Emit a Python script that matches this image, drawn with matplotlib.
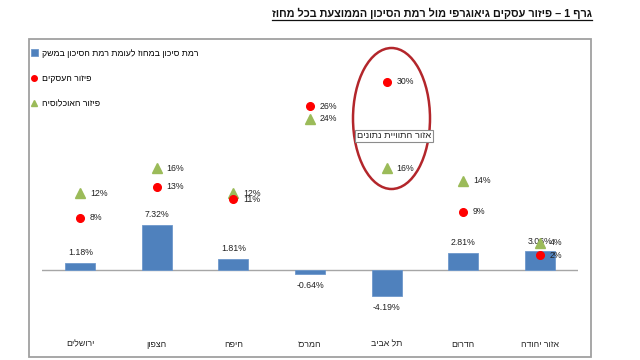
import matplotlib
matplotlib.use("Agg")
import matplotlib.pyplot as plt
from matplotlib.patches import Ellipse, Rectangle
from matplotlib.lines import Line2D

plt.rcParams['font.family'] = ['Liberation Sans', 'DejaVu Sans']

# data
districts = ["ירושלים", "הצפון", "חיפה", "המרכז", "תל אביב", "הדרום", "אזור יהודה"]
risk_vs_avg = [1.18, 7.32, 1.81, -0.64, -4.19, 2.81, 3.06]
business_share = [8, 13, 11, 26, 30, 9, 2]
population_share = [12, 16, 12, 24, 16, 14, 4]

title = "גרף 1 – פיזור עסקים גיאוגרפי מול רמת הסיכון הממוצעת בכל מחוז"
lbl_risk = "רמת סיכון במחוז לעומת רמת הסיכון במשק"
lbl_business = "פיזור העסקים"
lbl_population = "פיזור האוכלוסיה"
callout = "אזור התוויית נתונים"


def rtl(s):
    # no bidi in matplotlib: flip to visual order (no multi-digit numbers here)
    return s[::-1]


W, H = 640, 360
fig = plt.figure(figsize=(6.4, 3.6), dpi=100)
ax = fig.add_axes([42 / W, 1 - 330 / H, 536 / W, 285 / H])
ax2 = ax.twinx()

x = list(range(len(districts)))
blue = '#4F81BD'
red = '#FF0000'
green = '#9BBB59'
txt = '#222222'
fs = 6.3

bars = ax.bar(x, risk_vs_avg, width=0.39, color=blue, edgecolor='#6E98CC', linewidth=0.6,
              label=rtl(lbl_risk), zorder=2)
ax.axhline(0, color='#A6A6A6', lw=1, zorder=1)
ax.set_xlim(-0.5, 6.5)
ax.set_ylim(-9.68, 36.3)
ax2.set_ylim(-10.08, 35.9)

for xi, v in zip(x, risk_vs_avg):
    off = 7.2 if v >= 0 else -8
    ax.annotate(f"{v:.2f}%", (xi, v), xytext=(0, off), textcoords='offset points',
                ha='center', va='center', fontsize=fs, color=txt)

ax2.plot(x, population_share, linestyle='none', marker='^', markersize=7, color=green,
         label=rtl(lbl_population), zorder=3)
ax2.plot(x, business_share, linestyle='none', marker='o', markersize=5.5, color=red,
         label=rtl(lbl_business), zorder=4)

for xi, v in zip(x, business_share):
    ax2.annotate(f"{v}%", (xi, v), xytext=(7, 0), textcoords='offset points',
                 ha='left', va='center', fontsize=fs, color=txt)
for xi, v in zip(x, population_share):
    ax2.annotate(f"{v}%", (xi, v), xytext=(7, 0), textcoords='offset points',
                 ha='left', va='center', fontsize=fs, color=txt)

ax.set_xticks(x)
ax.set_xticklabels([rtl(d) for d in districts], fontsize=fs, color=txt)
ax.tick_params(axis='x', length=0, pad=7)
ax.set_yticks([])
ax2.set_yticks([])
for a in (ax, ax2):
    for sp in a.spines.values():
        sp.set_visible(False)

# legend, top-left inside the frame
handles = [bars, ax2.lines[1], ax2.lines[0]]
leg = fig.legend(handles=handles, labels=[rtl(lbl_risk), rtl(lbl_business), rtl(lbl_population)],
                 loc='upper left', bbox_to_anchor=(31 / W, 1 - 49 / H), frameon=False,
                 fontsize=fs, labelspacing=1.85, handlelength=0.7, handletextpad=0.5,
                 borderaxespad=0, borderpad=0)
for h in leg.legend_handles:
    if hasattr(h, 'set_markersize'):
        h.set_markersize(4)
for p in leg.get_patches():
    p.set_height(5)
    p.set_width(5)

# chart frame
fig.patches.append(Rectangle((29 / W, 1 - 357 / H), 562 / W, 318 / H, transform=fig.transFigure,
                             fill=False, edgecolor='#A0A0A0', lw=1.3))

# highlight ellipse + callout
fig.patches.append(Ellipse((391.5 / W, 1 - 118.5 / H), 77 / W, 141 / H, transform=fig.transFigure,
                           fill=False, edgecolor='#B3262B', lw=1.8, zorder=5))
fig.text(394 / W, 1 - 136 / H, rtl(callout), ha='center', va='center', fontsize=6.7, color=txt,
         bbox=dict(boxstyle='square,pad=0.2', fc='white', ec='#8C8C8C', lw=0.8), zorder=6)

# title, bold and underlined
t = fig.text(592 / W, 1 - 13 / H, rtl(title), ha='right', va='center', fontsize=7.8,
             fontweight='bold', color='#111111')
fig.canvas.draw()
bb = t.get_window_extent().transformed(fig.transFigure.inverted())
fig.lines.append(Line2D([bb.x0, bb.x1], [bb.y0 - 0.004, bb.y0 - 0.004], transform=fig.transFigure,
                        color='#111111', lw=0.9))

fig.savefig("out.png", dpi=100)
